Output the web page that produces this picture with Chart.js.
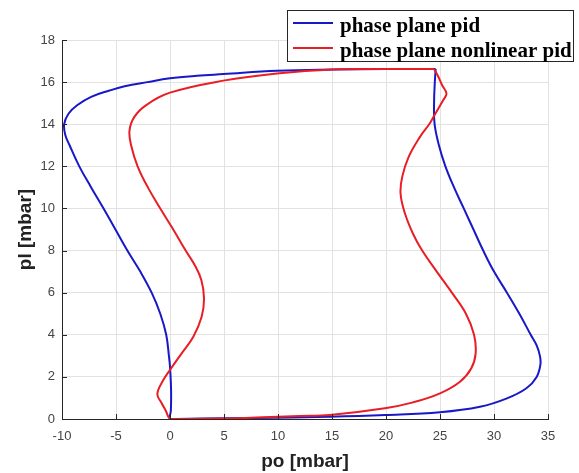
<!DOCTYPE html>
<html>
<head>
<meta charset="utf-8">
<title>phase plane</title>
<script src="https://cdn.jsdelivr.net/npm/chart.js@4.4.1/dist/chart.umd.min.js"></script>
<style>
    body { margin: 0; background: #fff; }
    #wrap { width: 579px; height: 473px; }
</style>
</head>
<body>
<div id="wrap"><canvas id="phaseChart" width="579" height="473"></canvas></div>
<script>
// po / pl trajectory of the plain pid loop (starts at the top right corner)
const pidPo = [24.6, 24.52, 24.45, 24.5, 24.9, 25.5, 26.3, 27.2, 28.1, 29.0, 30.0, 31.2, 32.35, 33.4,
    33.95, 34.25, 34.3, 33.95, 33.0, 31.2, 28.7, 25.0, 19.9, 14.8, 8.0, 3.0, 0.5, 0.0,
    0.08, 0.1, 0.0, -0.1, -0.35, -0.9, -1.7, -2.75, -3.95, -5.05, -6.15, -7.3, -8.4, -9.3,
    -9.7, -9.8, -9.4, -8.6, -7.3, -5.6, -4.2, -2.1, 0.0, 2.5, 4.94, 9.9, 15.1, 20.0, 24.6];
const pidPl = [16.62, 16.0, 15.0, 14.0, 13.0, 12.0, 11.0, 10.0, 9.0, 8.0, 7.0, 6.0, 5.0, 4.0,
    3.5, 3.0, 2.6, 2.0, 1.46, 0.98, 0.58, 0.32, 0.19, 0.11, 0.05, 0.02, 0.0, 0.0,
    0.4, 1.38, 2.48, 3.0, 4.0, 5.0, 6.0, 7.0, 8.0, 9.0, 10.0, 11.0, 12.0, 13.0,
    13.5, 14.0, 14.5, 14.9, 15.3, 15.6, 15.8, 16.0, 16.18, 16.3, 16.38, 16.54, 16.6, 16.62, 16.62];

// po / pl trajectory of the nonlinear pid loop
const nlPo = [24.45, 24.8, 25.2, 25.6, 25.3, 24.4, 24.0, 23.15, 22.1, 21.5, 21.35, 21.75, 22.5, 23.35,
    24.7, 26.1, 27.4, 28.15, 28.3, 27.9, 26.85, 25.0, 22.5, 19.9, 14.8, 12.0, 8.0, 4.9, 0.5, 0.0,
    -0.4, -0.77, -1.17, -0.62, 0.0, 1.08, 2.16, 2.93, 3.15, 2.9, 2.3, 1.45, 0.3,
    -0.9, -2.05, -3.0, -3.6, -3.75, -3.3, -2.2, 0.0, 4.94, 9.9, 15.1, 20.0, 24.45];
const nlPl = [16.62, 16.3, 15.85, 15.46, 15.15, 14.35, 14.0, 13.4, 12.45, 11.5, 10.7, 9.77, 8.8, 8.0,
    7.0, 6.0, 5.0, 4.0, 3.12, 2.41, 1.77, 1.22, 0.79, 0.51, 0.19, 0.14, 0.07, 0.02, 0.0, 0.0,
    0.4, 0.75, 1.19, 1.85, 2.33, 3.12, 3.91, 4.86, 5.73, 6.6, 7.3, 8.0, 9.0,
    10.0, 11.0, 12.0, 13.0, 13.7, 14.35, 14.91, 15.5, 16.07, 16.41, 16.6, 16.62, 16.62];

const seriesNames = ['phase plane pid', 'phase plane nonlinear pid'];

const xTicks = [-10, -5, 0, 5, 10, 15, 20, 25, 30, 35];
const yTicks = [0, 2, 4, 6, 8, 10, 12, 14, 16, 18];

function toPoints(xs, ys) {
    return xs.map((x, i) => ({ x: x, y: ys[i] }));
}

// boxed legend in the top right, sitting partly over the axes
const boxLegend = {
    id: 'boxLegend',
    afterDraw(chart) {
        const ctx = chart.ctx;
        ctx.save();
        ctx.fillStyle = '#ffffff';
        ctx.fillRect(287.5, 10.5, 286, 51);
        ctx.strokeStyle = '#262626';
        ctx.lineWidth = 1;
        ctx.strokeRect(287.5, 10.5, 286, 51);
        ctx.font = 'bold 21px "Liberation Serif", "Times New Roman", serif';
        ctx.textBaseline = 'alphabetic';
        chart.data.datasets.forEach((ds, i) => {
            const y = 23 + i * 25;
            ctx.strokeStyle = ds.borderColor;
            ctx.lineWidth = 2;
            ctx.beginPath();
            ctx.moveTo(293, y);
            ctx.lineTo(333, y);
            ctx.stroke();
            ctx.fillStyle = '#000000';
            ctx.fillText(ds.label, 340, 32 + i * 25);
        });
        ctx.restore();
    }
};

// short inward tick marks on the left and bottom axes
const innerTicks = {
    id: 'innerTicks',
    afterDraw(chart) {
        const ctx = chart.ctx;
        const area = chart.chartArea;
        const xs = chart.scales.x;
        const ys = chart.scales.y;
        ctx.save();
        ctx.strokeStyle = '#262626';
        ctx.lineWidth = 1;
        ctx.beginPath();
        xTicks.forEach(v => {
            const px = Math.round(xs.getPixelForValue(v)) + 0.5;
            ctx.moveTo(px, area.bottom);
            ctx.lineTo(px, area.bottom - 5);
        });
        yTicks.forEach(v => {
            const py = Math.round(ys.getPixelForValue(v)) + 0.5;
            ctx.moveTo(area.left, py);
            ctx.lineTo(area.left + 5, py);
        });
        ctx.stroke();
        ctx.restore();
    }
};

const ctx = document.getElementById('phaseChart').getContext('2d');
const phaseChart = new Chart(ctx, {
    type: 'scatter',
    data: {
        datasets: [{
            label: seriesNames[0],
            data: toPoints(pidPo, pidPl),
            borderColor: 'rgb(24, 24, 200)',
            backgroundColor: 'rgb(24, 24, 200)',
            borderWidth: 2,
            showLine: true,
            pointRadius: 0,
            tension: 0.4,
            order: 1
        }, {
            label: seriesNames[1],
            data: toPoints(nlPo, nlPl),
            borderColor: 'rgb(232, 30, 36)',
            backgroundColor: 'rgb(232, 30, 36)',
            borderWidth: 2,
            showLine: true,
            pointRadius: 0,
            tension: 0.4,
            order: 0
        }]
    },
    options: {
        responsive: false,
        animation: false,
        layout: {
            padding: { top: 40, right: 31, left: 0, bottom: 0 }
        },
        plugins: {
            legend: { display: false },
            tooltip: { enabled: false }
        },
        scales: {
            x: {
                type: 'linear',
                min: -10,
                max: 35,
                afterBuildTicks: scale => {
                    scale.ticks = xTicks.map(v => ({ value: v }));
                },
                afterFit: scale => { scale.height = 54; },
                grid: { color: '#e2e2e2', drawTicks: false },
                border: { color: '#262626', width: 1 },
                ticks: {
                    color: '#444',
                    padding: 10,
                    maxRotation: 0,
                    font: { family: '"Liberation Sans", Arial, sans-serif', size: 13 }
                },
                title: {
                    display: true,
                    text: 'po [mbar]',
                    color: '#222',
                    padding: 0,
                    font: { family: '"Liberation Sans", Arial, sans-serif', size: 19, weight: 'bold' }
                }
            },
            y: {
                type: 'linear',
                min: 0,
                max: 18,
                afterBuildTicks: scale => {
                    scale.ticks = yTicks.map(v => ({ value: v }));
                },
                afterFit: scale => { scale.width = 62; },
                grid: { color: '#e2e2e2', drawTicks: false },
                border: { color: '#262626', width: 1 },
                ticks: {
                    color: '#444',
                    padding: 7,
                    font: { family: '"Liberation Sans", Arial, sans-serif', size: 13 }
                },
                title: {
                    display: true,
                    text: 'pl [mbar]',
                    color: '#222',
                    padding: { top: 14, bottom: 0 },
                    font: { family: '"Liberation Sans", Arial, sans-serif', size: 19, weight: 'bold' }
                }
            }
        }
    },
    plugins: [innerTicks, boxLegend]
});
</script>
</body>
</html>
